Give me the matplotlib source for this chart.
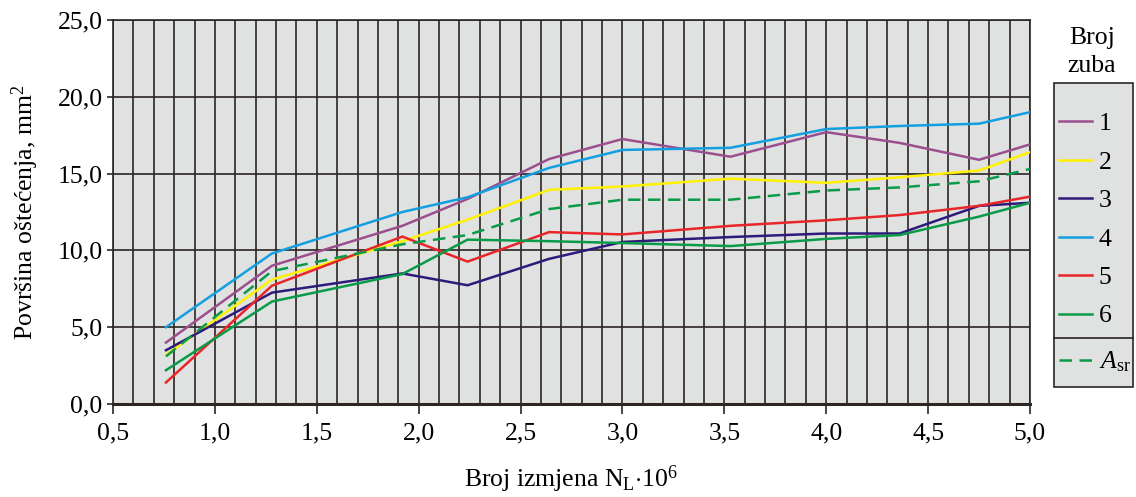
import matplotlib
matplotlib.use("Agg")
import matplotlib.pyplot as plt
from matplotlib.ticker import MultipleLocator, FuncFormatter
from matplotlib.lines import Line2D
from matplotlib.patches import Rectangle

plt.rcParams['font.family'] = ['Liberation Serif', 'DejaVu Serif']
plt.rcParams['mathtext.fontset'] = 'custom'
plt.rcParams['mathtext.rm'] = 'Liberation Serif'
plt.rcParams['mathtext.it'] = 'Liberation Serif:italic'

# broj izmjena (x 10^6)
x = [0.76, 1.28, 1.92, 2.24, 2.64, 3.0, 3.53, 4.0, 4.36, 4.75, 5.0]

# povrsina ostecenja po zubu, mm2
z1 = [4.0, 9.0, 11.6, 13.35, 15.95, 17.25, 16.1, 17.7, 17.0, 15.9, 16.9]
z2 = [3.2, 8.1, 10.6, 12.0, 13.94, 14.16, 14.67, 14.4, 14.76, 15.2, 16.4]
z3 = [3.5, 7.25, 8.5, 7.73, 9.45, 10.55, 10.87, 11.1, 11.1, 12.9, 13.1]
z4 = [5.0, 9.8, 12.5, 13.46, 15.37, 16.54, 16.68, 17.9, 18.1, 18.25, 19.0]
z5 = [1.4, 7.7, 10.9, 9.27, 11.19, 11.04, 11.6, 11.96, 12.3, 12.9, 13.5]
z6 = [2.2, 6.67, 8.46, 10.7, 10.6, 10.48, 10.28, 10.75, 11.0, 12.2, 13.1]
a_sr = [3.1, 8.65, 10.4, 11.0, 12.69, 13.3, 13.3, 13.9, 14.1, 14.5, 15.3]

labels = ["1", "2", "3", "4", "5", "6"]
colors = ["#9b4f8f", "#fff200", "#2e1a7a", "#149fe0", "#e8262a", "#0a9b48"]

grid_c = "#2b2523"
bg = "#e0e1e1"
fs = 18.5
W, H = 1136, 497

fig = plt.figure(figsize=(11.36, 4.97), dpi=100)
ax = fig.add_axes([113 / W, 1 - 404 / H, 917 / W, 384 / H])
ax.set_facecolor(bg)

lines = []
for z, c, lab in zip([z1, z2, z3, z4, z5, z6], colors, labels):
    l, = ax.plot(x, z, color=c, lw=1.8, label=lab, zorder=3)
    lines.append(l)
lsr, = ax.plot(x, a_sr, color="#0a9b48", lw=1.8, dashes=(5, 3),
               label=r"$A_{\mathrm{sr}}$", zorder=3)

ax.set_xlim(0.5, 5.0)
ax.set_ylim(0, 25)
ax.xaxis.set_major_locator(MultipleLocator(0.5))
ax.xaxis.set_minor_locator(MultipleLocator(0.1))
ax.yaxis.set_major_locator(MultipleLocator(5))
fmt = FuncFormatter(lambda v, p: f"{v:.1f}".replace(".", ","))
ax.xaxis.set_major_formatter(fmt)
ax.yaxis.set_major_formatter(fmt)

ax.grid(which="major", axis="y", color=grid_c, lw=1.2, zorder=1)
ax.grid(which="both", axis="x", color=grid_c, lw=1.2, zorder=1)
ax.set_axisbelow(True)

ax.tick_params(axis="x", which="major", direction="out", length=7, width=1.2,
               color=grid_c, labelsize=fs, pad=6)
ax.tick_params(axis="x", which="minor", length=0)
ax.tick_params(axis="y", direction="out", length=4.5, width=1.2,
               color=grid_c, labelsize=fs, pad=3)

for s in ["top", "right", "left"]:
    ax.spines[s].set_color(grid_c)
    ax.spines[s].set_linewidth(1.2)
ax.spines["bottom"].set_color(grid_c)
ax.spines["bottom"].set_linewidth(2.2)

ax.set_xlabel(r"Broj izmjena N$_\mathrm{L}$$\cdot$10$^6$", fontsize=fs, labelpad=14)
ax.set_ylabel(r"Površina oštećenja, mm$^2$", fontsize=fs, labelpad=12)

# okvir legende
fig.add_artist(Rectangle((1054 / W, 1 - 387 / H), 79 / W, 304 / H,
                         transform=fig.transFigure, facecolor=bg,
                         edgecolor=grid_c, lw=1.2, zorder=0))
fig.add_artist(Line2D([1054 / W, 1133 / W], [1 - 338 / H, 1 - 338 / H],
                      transform=fig.transFigure, color=grid_c, lw=1.2))

leg_kw = dict(fontsize=fs, frameon=False, handlelength=1.3, handletextpad=0.25,
              borderpad=0, borderaxespad=0, loc="center left",
              bbox_transform=fig.transFigure)
leg1 = fig.legend(handles=lines, labelspacing=0.6,
                  bbox_to_anchor=(1059 / W, 1 - 220 / H), **leg_kw)
leg2 = fig.legend(handles=[lsr], bbox_to_anchor=(1059 / W, 1 - 362 / H), **leg_kw)

fig.text(1092 / W, 1 - 52 / H, "Broj\nzuba", fontsize=fs, ha="center",
         va="center", linespacing=1.4)

fig.savefig("out.png", dpi=100)
